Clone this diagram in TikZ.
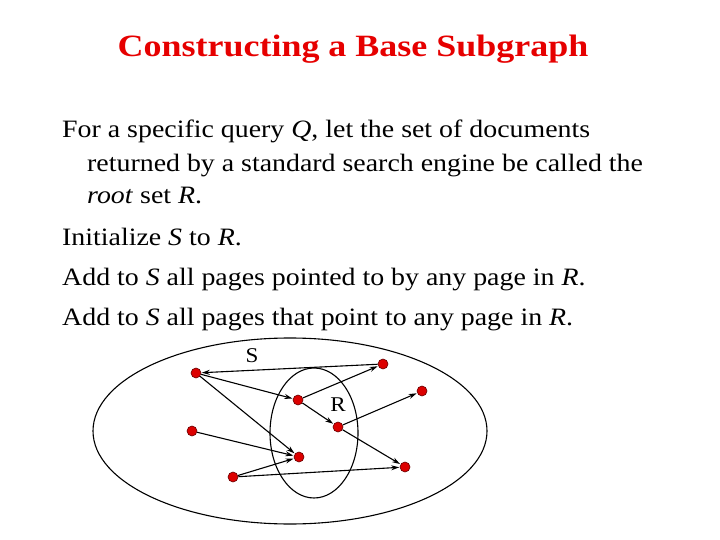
\documentclass[tikz,border=0pt]{standalone}
\usepackage{fontspec}
\usepackage{graphicx}
\setmainfont{Liberation Serif}
\usetikzlibrary{arrows.meta}
\definecolor{titlered}{RGB}{230,0,0}
\definecolor{dotred}{RGB}{220,0,0}
\newcommand{\bodyline}[1]{\scalebox{1.115}[1]{#1}}
\begin{document}
\begin{tikzpicture}[x=1pt,y=-1pt,
  dot/.style={circle,fill=dotred,draw=black!60!red,line width=0.6pt,inner sep=0pt,minimum size=10pt},
  link/.style={-{Stealth[length=8pt,width=5pt]},line width=1.1pt,shorten >=0.5pt},
  body/.style={anchor=base west,font=\fontsize{25}{30}\selectfont,inner sep=0pt},
  setlbl/.style={font=\fontsize{21}{24}\selectfont,inner sep=0pt}]
\useasboundingbox (0,0) rectangle (720,540);
\node[font=\bfseries\fontsize{31}{38}\selectfont,text=titlered,anchor=base,inner sep=0pt] (title) at (353,57) {\scalebox{1.16}[1]{Constructing a Base Subgraph}};
\node[body] (l1) at (62,138) {\bodyline{For a specific query \textit{Q}, let the set of documents}};
\node[body] (l2) at (87,172) {\bodyline{returned by a standard search engine be called the}};
\node[body] (l3) at (87,204) {\bodyline{\textit{root} set \textit{R}.}};
\node[body] (l4) at (62,245) {\bodyline{Initialize \textit{S} to \textit{R}.}};
\node[body] (l5) at (62,285) {\bodyline{Add to \textit{S} all pages pointed to by any page in \textit{R}.}};
\node[body] (l6) at (62,325) {\bodyline{Add to \textit{S} all pages that point to any page in \textit{R}.}};
% sets
\draw[line width=1.1pt] (290,431) ellipse [x radius=197, y radius=93];
\draw[line width=1.1pt] (314,433) ellipse [x radius=44, y radius=65];
\node[setlbl] (S) at (252,356) {\scalebox{1.1}[1]{S}};
\node[setlbl] (R) at (338,405) {\scalebox{1.1}[1]{R}};
% pages
\node[dot] (A) at (196,373) {};
\node[dot] (B) at (383,364) {};
\node[dot] (C) at (298,400) {};
\node[dot] (D) at (338,427) {};
\node[dot] (E) at (422,391) {};
\node[dot] (F) at (192,431) {};
\node[dot] (G) at (299,457) {};
\node[dot] (H) at (233,477) {};
\node[dot] (I) at (405,467) {};
% links
\draw[link] (B) -- (A);
\draw[link] (A) -- (C);
\draw[link] (C) -- (B);
\draw[link] (A) -- (G);
\draw[link] (C) -- (D);
\draw[link] (D) -- (E);
\draw[link] (D) -- (I);
\draw[link] (F) -- (G);
\draw[link] (H) -- (G);
\draw[link] (H) -- (I);
\end{tikzpicture}
\end{document}
